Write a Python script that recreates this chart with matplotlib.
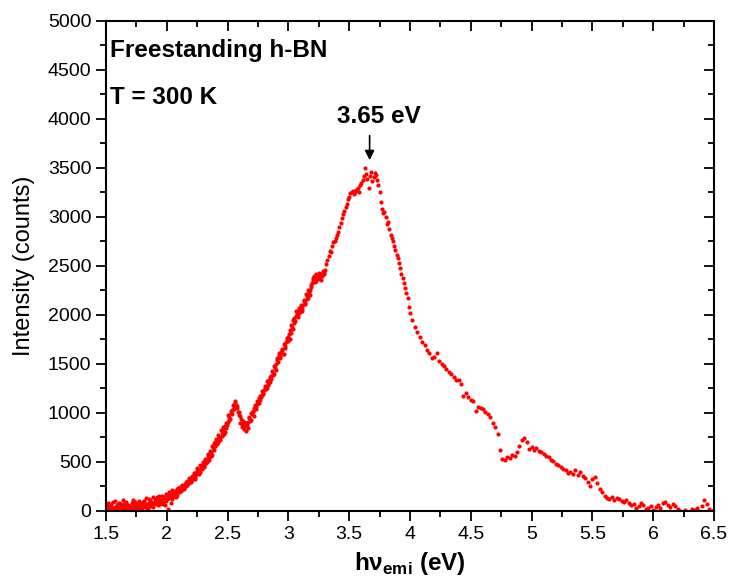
import numpy as np
import matplotlib
matplotlib.use("Agg")
from matplotlib import pyplot as plt
from matplotlib.ticker import MultipleLocator

# PL spectrum of freestanding h-BN

# 1.50 .. 3.99 eV, step 0.01
intensity_lo = [
    30, 55, 10, 70, 40, 25, 90, 45, 15, 60,
    50, 20, 75, 35, 110, 40, 15, 65, 30, 55,
    45, 80, 25, 60, 95, 35, 70, 20, 85, 50,
    65, 100, 40, 75, 30, 120, 55, 90, 70, 45,
    110, 80, 140, 60, 125, 95, 150, 70, 130, 100,
    160, 20, 135, 175, 120, 190, 150, 205, 165, 230,
    195, 240, 215, 260, 230, 280, 250, 310, 285, 330,
    300, 345, 370, 330, 400, 375, 420, 395, 455, 430,
    480, 450, 520, 500, 560, 540, 600, 575, 640, 690,
    660, 720, 700, 760, 740, 800, 830, 790, 870, 850,
    910, 960, 940, 1000, 1030, 1060, 1100, 1080, 1050, 1010,
    970, 940, 890, 860, 900, 820, 880, 910, 950, 930,
    990, 1010, 1050, 1040, 1090, 1110, 1150, 1130, 1180, 1200,
    1230, 1260, 1250, 1300, 1340, 1320, 1380, 1410, 1400, 1460,
    1500, 1540, 1590, 1560, 1620, 1650, 1600, 1680, 1720, 1750,
    1780, 1760, 1820, 1880, 1950, 1920, 1990, 2010, 2000, 2050,
    2080, 2040, 2100, 2140, 2120, 2190, 2170, 2230, 2260, 2310,
    2360, 2400, 2380, 2350, 2410, 2390, 2370, 2420, 2400, 2440,
    2460, 2520, 2560, 2600, 2650, 2640, 2700, 2740, 2760, 2790,
    2820, 2850, 2900, 2940, 2990, 3030, 3060, 3100, 3130, 3180,
    3200, 3240, 3250, 3270, 3230, 3260, 3280, 3300, 3250, 3330,
    3350, 3380, 3420, 3500, 3440, 3390, 3300, 3420, 3460, 3370,
    3410, 3450, 3430, 3380, 3330, 3250, 3150, 3080, 3040, 3050,
    3000, 2930, 2950, 2880, 2820, 2790, 2750, 2700, 2660, 2610,
    2580, 2530, 2480, 2420, 2380, 2330, 2280, 2220, 2170, 2080,
]

# 1.505 .. 3.295 eV, step 0.01 (in between the points above, dense low-energy side)
intensity_mid = [
    15, 80, 45, 5, 60, 35, 20, 100, 40, 70,
    85, 30, 55, 10, 70, 45, 90, 25, 60, 40,
    20, 65, 110, 50, 30, 75, 45, 100, 60, 35,
    90, 55, 130, 70, 20, 85, 110, 60, 140, 80,
    75, 120, 95, 155, 70, 110, 90, 140, 60, 170,
    120, 190, 145, 80, 210, 160, 180, 140, 220, 200,
    230, 200, 270, 245, 225, 300, 265, 290, 340, 310,
    360, 325, 390, 350, 440, 410, 380, 470, 440, 500,
    460, 530, 490, 580, 520, 610, 560, 660, 620, 700,
    730, 680, 780, 720, 830, 770, 860, 810, 900, 880,
    980, 930, 1020, 990, 1080, 1040, 1120, 1070, 1010, 980,
    900, 860, 920, 840, 870, 900, 850, 960, 920, 1000,
    1020, 970, 1080, 1060, 1120, 1100, 1170, 1160, 1220, 1190,
    1280, 1240, 1330, 1290, 1370, 1350, 1430, 1390, 1480, 1440,
    1560, 1520, 1610, 1570, 1640, 1600, 1700, 1660, 1770, 1730,
    1810, 1850, 1900, 1860, 1970, 1940, 2040, 1980, 2070, 2030,
    2100, 2060, 2150, 2110, 2210, 2160, 2250, 2200, 2290, 2330,
    2380, 2340, 2420, 2370, 2390, 2430, 2360, 2410, 2450, 2420,
]

# 4.00 .. 6.50 eV, step 0.02
intensity_hi = [
    2020, 1950, 1880, 1830, 1780, 1720, 1690, 1640, 1610, 1560,
    1570, 1610, 1530, 1500, 1480, 1450, 1420, 1400, 1370, 1340,
    1340, 1300, 1170, 1200, 1160, 1130, 1120, 1020, 1060, 1050,
    1040, 1010, 990, 960, 900, 860, 790, 620, 530, 520,
    550, 540, 570, 560, 600, 660, 720, 740, 700, 630,
    650, 620, 640, 610, 600, 580, 560, 550, 520, 510,
    480, 470, 450, 430, 420, 390, 400, 380, 420, 370,
    400, 360, 340, 300, 250, 330, 350, 290, 220, 190,
    150, 130, 120, 140, 110, 130, 120, 100, 90, 110,
    80, 60, 70, 30, 50, 80, 60, 20, 30, 50,
    10, 40, 60, 30, 80, 95, 60, 40, 70, 50,
    20, 0, -30, 10, -40, -20, 20, 10, 30, 0,
    50, 110, 70, 20, 0, 15,
]

x_ticks = [1.5, 2, 2.5, 3, 3.5, 4, 4.5, 5, 5.5, 6, 6.5]
x_ticklabels = ['1.5', '2', '2.5', '3', '3.5', '4', '4.5', '5', '5.5', '6', '6.5']

energy_lo = np.round(1.50 + 0.01 * np.arange(len(intensity_lo)), 3)
energy_mid = np.round(1.505 + 0.01 * np.arange(len(intensity_mid)), 3)
energy_hi = np.round(4.00 + 0.02 * np.arange(len(intensity_hi)), 3)

energy = np.concatenate([energy_lo, energy_mid, energy_hi])
intensity = np.concatenate([intensity_lo, intensity_mid, intensity_hi])

plt.rcParams['font.family'] = ['Liberation Sans', 'DejaVu Sans']
plt.rcParams['mathtext.fontset'] = 'custom'
plt.rcParams['mathtext.rm'] = 'Liberation Sans'
plt.rcParams['mathtext.bf'] = 'Liberation Sans:bold'

fig = plt.figure(figsize=(7.29, 5.83), dpi=100)
ax = fig.add_axes([0.1454, 0.1235, 0.834, 0.8405])

ax.plot(energy, intensity, 'o', color='red', ms=3.0, mec='none')

ax.set_xticks(x_ticks)
ax.set_xticklabels(x_ticklabels)
ax.xaxis.set_minor_locator(MultipleLocator(0.25))
ax.yaxis.set_major_locator(MultipleLocator(500))
ax.yaxis.set_minor_locator(MultipleLocator(250))
ax.set_xlim(1.5, 6.5)
ax.set_ylim(0, 5000)

for s in ax.spines.values():
    s.set_linewidth(1.5)

ax.tick_params(which='both', top=True, right=True, direction='out', width=1.3, labelsize=14)
ax.tick_params(which='major', length=7)
ax.tick_params(which='minor', length=4)
# top/right ticks point inward, like the Origin default
for t in ax.xaxis.get_major_ticks() + ax.xaxis.get_minor_ticks():
    t.tick2line.set_marker(3)
for t in ax.yaxis.get_major_ticks() + ax.yaxis.get_minor_ticks():
    t.tick2line.set_marker(0)

ax.set_xlabel(r'h$\mathbf{\nu}_{\mathbf{emi}}$ (eV)', fontsize=17.5, fontweight='bold', labelpad=5)
ax.set_ylabel('Intensity (counts)', fontsize=17)
ax.yaxis.set_label_coords(-0.117, 0.5)

ax.text(1.535, 4633, 'Freestanding h-BN', fontsize=17.5, fontweight='bold', va='baseline')
ax.text(1.535, 4153, 'T = 300 K', fontsize=17.5, fontweight='bold', va='baseline')
ax.text(3.403, 3959, '3.65 eV', fontsize=17.5, fontweight='bold', va='baseline')
ax.annotate('', xy=(3.668, 3580), xytext=(3.668, 3830),
            arrowprops=dict(arrowstyle='-|>', color='black', lw=1.2, shrinkA=0, shrinkB=0,
                            mutation_scale=14))

fig.savefig('out.png', dpi=100)
